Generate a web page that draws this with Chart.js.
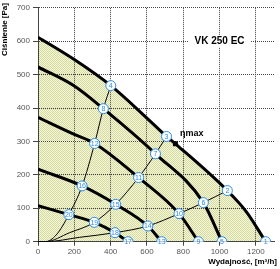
<!DOCTYPE html>
<html>
<head>
<meta charset="utf-8">
<script src="https://cdn.jsdelivr.net/npm/chart.js@4.4.1/dist/chart.umd.min.js"></script>
<style>
  body { margin: 0; background: #fff; }
  canvas { display: block; }
</style>
</head>
<body>
<canvas id="chart" width="280" height="269"></canvas>
<script>
// axis ticks
const flowTicks = [0, 200, 400, 600, 800, 1000, 1200];
const pressureTicks = [0, 100, 200, 300, 400, 500, 600, 700];

// fan curves (flow m3/h, pressure Pa)
const curve1Q = [0, 200, 401, 600, 708, 757, 1043, 1150, 1254];
const curve1P = [612, 545, 467, 370, 315, 293, 153, 88, 0];
const curve2Q = [0, 200, 360, 647, 911, 1013];
const curve2P = [523, 466, 398, 263, 117, 0];
const curve3Q = [0, 200, 312, 554, 777, 884];
const curve3P = [372, 321, 294, 192, 84, 0];
const curve4Q = [0, 243, 428, 605, 681];
const curve4P = [217, 167, 112, 47, 0];
const curve5Q = [0, 170, 310, 424, 496];
const curve5P = [108, 81, 58, 27, 0];

// system curves
const sysAQ = [0, 40, 100, 170, 243, 312, 360, 401];
const sysAP = [0, 0, 20, 81, 167, 294, 398, 467];
const sysBQ = [0, 40, 174, 310, 428, 554, 647, 708];
const sysBP = [0, 0, 27, 58, 112, 192, 263, 315];
const sysCQ = [0, 40, 228, 424, 605, 777, 911, 1043];
const sysCP = [0, 0, 13, 27, 47, 84, 117, 153];

// numbered measuring points
const markerNo = [1, 2, 3, 4, 5, 6, 7, 8, 9, 10, 11, 12, 13, 14, 15, 16, 17, 18, 19, 20];
const markerQ = [1254, 1043, 708, 401, 1013, 911, 647, 360, 884, 777, 554, 312, 681, 605, 428, 243, 496, 424, 310, 170];
const markerP = [0, 153, 315, 467, 0, 117, 263, 398, 0, 84, 192, 294, 0, 47, 112, 167, 0, 27, 58, 81];

// max efficiency point
const etaQ = [757];
const etaP = [293];

const FONT = 'Arial, "Liberation Sans", sans-serif';
const BLUE = '#2a8ce8';

function pts(qs, ps) {
    return qs.map((q, i) => ({ x: q, y: ps[i] }));
}

const canvas = document.getElementById('chart');
const ctx = canvas.getContext('2d');

// yellow dotted fill under the top curve
const pc = document.createElement('canvas');
pc.width = 2;
pc.height = 2;
const pctx = pc.getContext('2d');
pctx.fillStyle = '#f7f7cf';
pctx.fillRect(0, 0, 2, 2);
pctx.fillStyle = '#d3dbaa';
pctx.fillRect(0, 0, 1, 1);
pctx.fillRect(1, 1, 1, 1);
const fillPattern = ctx.createPattern(pc, 'repeat');

function fanCurve(qs, ps, extra) {
    return Object.assign({
        data: pts(qs, ps),
        showLine: true,
        borderColor: '#000',
        borderWidth: 3,
        pointRadius: 0,
        cubicInterpolationMode: 'monotone',
        fill: false,
    }, extra || {});
}

function sysCurve(qs, ps) {
    return {
        data: pts(qs, ps),
        showLine: true,
        borderColor: '#000',
        borderWidth: 1,
        pointRadius: 0,
        cubicInterpolationMode: 'monotone',
        fill: false,
    };
}

const textPlugin = {
    id: 'texts',
    afterDatasetsDraw(chart) {
        const c = chart.ctx;
        const x = chart.scales.x;
        const y = chart.scales.y;
        c.save();
        c.textAlign = 'center';
        c.textBaseline = 'middle';
        c.font = '7px ' + FONT;
        c.fillStyle = BLUE;
        markerNo.forEach((n, i) => {
            c.fillText(n, x.getPixelForValue(markerQ[i]), y.getPixelForValue(markerP[i]) + 0.5);
        });

        c.fillStyle = '#000';
        c.textAlign = 'left';
        c.font = 'bold 9px ' + FONT;
        c.fillText('ηmax', x.getPixelForValue(etaQ[0]) + 4.5, y.getPixelForValue(etaP[0]) - 10);

        // title box
        c.font = 'bold 10px ' + FONT;
        const title = 'VK 250 EC';
        const tx = x.getPixelForValue(1000);
        const ty = y.getPixelForValue(600);
        const tw = c.measureText(title).width;
        c.fillStyle = '#fff';
        c.fillRect(tx - tw / 2 - 6, ty - 6, tw + 12, 12);
        c.fillStyle = '#000';
        c.textAlign = 'center';
        c.fillText(title, tx, ty + 0.5);

        // axis titles
        c.font = 'bold 8px ' + FONT;
        c.textAlign = 'right';
        c.fillText('Wydajność, [m³/h]', 277, 261.5);
        c.translate(5, 29.5);
        c.rotate(-Math.PI / 2);
        c.textAlign = 'center';
        c.fillText('Ciśnienie [Pa]', 0, 0);
        c.restore();
    }
};

new Chart(ctx, {
    type: 'scatter',
    data: {
        datasets: [
            {
                data: pts(markerQ, markerP),
                pointStyle: 'circle',
                pointRadius: 5,
                pointBackgroundColor: '#fff',
                pointBorderColor: BLUE,
                pointBorderWidth: 1,
            },
            {
                data: pts(etaQ, etaP),
                pointStyle: 'rect',
                pointRadius: 3.5,
                pointBackgroundColor: '#000',
                pointBorderColor: '#000',
                pointBorderWidth: 0,
            },
            fanCurve(curve1Q, curve1P, { fill: 'origin', backgroundColor: fillPattern }),
            fanCurve(curve2Q, curve2P),
            fanCurve(curve3Q, curve3P),
            fanCurve(curve4Q, curve4P),
            fanCurve(curve5Q, curve5P),
            sysCurve(sysAQ, sysAP),
            sysCurve(sysBQ, sysBP),
            sysCurve(sysCQ, sysCP),
        ],
    },
    options: {
        responsive: false,
        animation: false,
        layout: { padding: { top: 5, right: 3, left: 0, bottom: 0 } },
        plugins: {
            legend: { display: false },
            tooltip: { enabled: false },
            filler: { drawTime: 'beforeDraw' },
        },
        scales: {
            x: {
                type: 'linear',
                min: 0,
                max: 1300,
                afterBuildTicks: (s) => { s.ticks = flowTicks.map(v => ({ value: v })); },
                afterFit: (s) => { s.height = 27.3; },
                ticks: {
                    color: '#555', font: { size: 8, family: FONT }, padding: 1, maxRotation: 0,
                    callback: (v) => String(v),
                },
                grid: { color: '#444', lineWidth: 1, tickLength: 4 },
                border: { color: '#444', dash: [1, 1] },
            },
            y: {
                min: 0,
                max: 700,
                afterBuildTicks: (s) => { s.ticks = pressureTicks.map(v => ({ value: v })); },
                afterFit: (s) => { s.width = 38; },
                ticks: {
                    color: '#555', font: { size: 8, family: FONT }, padding: 3,
                    callback: (v) => String(v),
                },
                grid: { color: '#444', lineWidth: 1, tickLength: 5 },
                border: { color: '#444', dash: [1, 1] },
            },
        },
    },
    plugins: [textPlugin],
});
</script>
</body>
</html>
